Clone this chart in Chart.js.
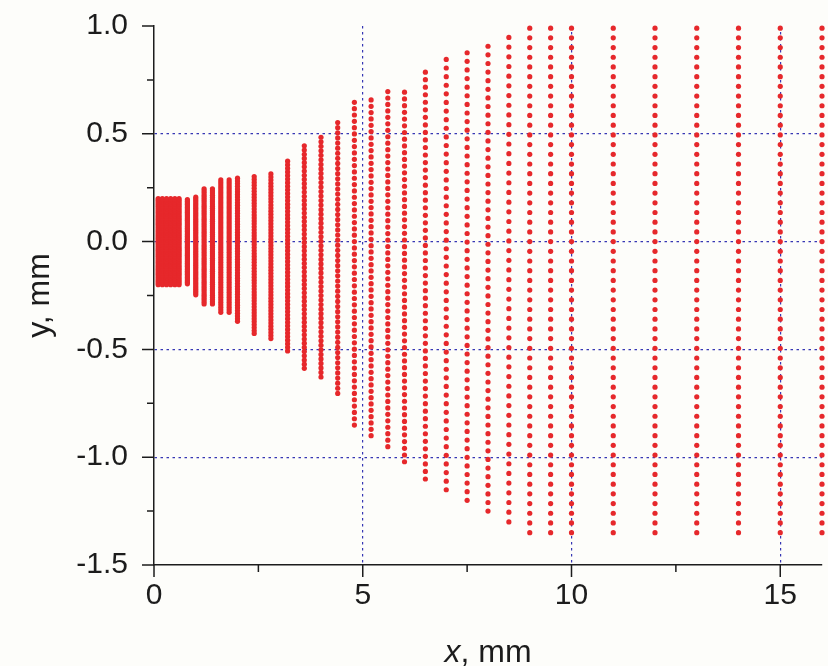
<!DOCTYPE html>
<html>
<head>
<meta charset="utf-8">
<script src="https://cdn.jsdelivr.net/npm/chart.js@4.4.1/dist/chart.umd.min.js"></script>
<style>
  html, body { margin: 0; padding: 0; background: #fdfdfa; }
  #wrap { width: 828px; height: 666px; }
</style>
</head>
<body>
<div id="wrap"><canvas id="c" width="828" height="666"></canvas></div>
<script>
// node columns: x position (mm), upper / lower y edge (mm), nodes per column
const colX = [0.1, 0.2, 0.3, 0.4, 0.5, 0.6, 0.8, 1.0, 1.2, 1.4, 1.6, 1.8, 2.0, 2.4, 2.8, 3.2, 3.6, 4.0, 4.4,
  4.8, 5.2, 5.6, 6.0, 6.5, 7.0, 7.5, 8.0, 8.5, 9.0, 9.5, 10, 11, 12, 13, 14, 15, 16];
const colTop = [0.2, 0.2, 0.2, 0.2, 0.2, 0.2, 0.195, 0.206, 0.245, 0.245, 0.286, 0.286, 0.294, 0.302, 0.314, 0.373, 0.444, 0.484, 0.552,
  0.646, 0.657, 0.696, 0.693, 0.786, 0.845, 0.876, 0.906, 0.947, 0.99, 0.99, 0.99, 0.99, 0.99, 0.99, 0.99, 0.99, 0.99];
const colBottom = [-0.2, -0.2, -0.2, -0.2, -0.2, -0.2, -0.196, -0.247, -0.289, -0.289, -0.328, -0.328, -0.37, -0.426, -0.45, -0.507, -0.588, -0.628, -0.704,
  -0.851, -0.9, -0.951, -1.021, -1.101, -1.151, -1.2, -1.25, -1.3, -1.35, -1.35, -1.35, -1.35, -1.35, -1.35, -1.35, -1.35, -1.35];
const colCount = [51, 51, 51, 51, 51, 51, 54, 54, 54, 54, 54, 54, 54, 54, 54, 54, 54, 54, 54,
  52, 54, 56, 56, 55, 51, 53, 55, 51, 53, 53, 53, 53, 53, 53, 53, 53, 53];

const yTicks = [-1.5, -1.0, -0.5, 0.0, 0.5, 1.0];
const xTicks = [0, 5, 10, 15];
const yMinor = [-1.25, -0.75, -0.25, 0.25, 0.75];
const xMinor = [2.5, 7.5, 12.5];

const FONT = "'Liberation Sans', Arial, Helvetica, sans-serif";
const INK = '#1c1c1c';
const GRID = '#3636b4';
const DOT = '#e6282b';

// every column is an evenly spaced run of nodes between its two edges
const nodes = [];
colX.forEach((x, i) => {
  const n = colCount[i];
  for (let k = 0; k < n; k++) {
    nodes.push({ x, y: colTop[i] + (colBottom[i] - colTop[i]) * k / (n - 1) });
  }
});

const paper = {
  id: 'paper',
  beforeDraw(chart) {
    const { ctx, width, height } = chart;
    ctx.save();
    ctx.fillStyle = '#fdfdfa';
    ctx.fillRect(0, 0, width, height);
    ctx.restore();
  },
};

// outward major/minor tick marks and the x title with italic "x"
const axisMarks = {
  id: 'axisMarks',
  afterDraw(chart) {
    const { ctx, scales: { x, y }, chartArea } = chart;
    ctx.save();
    ctx.strokeStyle = INK;
    ctx.lineWidth = 1.5;
    ctx.beginPath();
    yTicks.forEach(v => { const p = y.getPixelForValue(v); ctx.moveTo(chartArea.left - 12, p); ctx.lineTo(chartArea.left, p); });
    yMinor.forEach(v => { const p = y.getPixelForValue(v); ctx.moveTo(chartArea.left - 7, p); ctx.lineTo(chartArea.left, p); });
    xTicks.forEach(v => { const p = x.getPixelForValue(v); ctx.moveTo(p, chartArea.bottom); ctx.lineTo(p, chartArea.bottom + 12); });
    xMinor.forEach(v => { const p = x.getPixelForValue(v); ctx.moveTo(p, chartArea.bottom); ctx.lineTo(p, chartArea.bottom + 7); });
    ctx.stroke();

    const size = 32;
    const italic = `italic ${size}px ${FONT}`;
    const plain = `${size}px ${FONT}`;
    ctx.font = italic;
    const w1 = ctx.measureText('x').width;
    ctx.font = plain;
    const w2 = ctx.measureText(', mm').width;
    const cx = (chartArea.left + chartArea.right) / 2;
    const left = cx - (w1 + w2) / 2;
    ctx.fillStyle = INK;
    ctx.textBaseline = 'alphabetic';
    ctx.textAlign = 'left';
    ctx.font = italic;
    ctx.fillText('x', left, 662);
    ctx.font = plain;
    ctx.fillText(', mm', left + w1, 662);
    ctx.restore();
  },
};

new Chart(document.getElementById('c'), {
  type: 'scatter',
  data: {
    datasets: [{
      data: nodes,
      pointRadius: 2.6,
      pointHoverRadius: 0,
      pointBackgroundColor: DOT,
      pointBorderWidth: 0,
      clip: false,
    }],
  },
  options: {
    responsive: false,
    animation: false,
    events: [],
    layout: { padding: { top: 26, right: 6, left: 0, bottom: 0 } },
    plugins: { legend: { display: false }, tooltip: { enabled: false } },
    scales: {
      x: {
        type: 'linear', min: 0, max: 16,
        afterFit: s => { s.height = 101; s.paddingLeft = 0; s.paddingRight = 0; },
        afterBuildTicks: s => { s.ticks = xTicks.map(value => ({ value })); },
        ticks: { color: INK, padding: 13, font: { family: FONT, size: 30 } },
        grid: {
          drawTicks: false, lineWidth: 1.2,
          color: c => (c.tick && c.tick.value === 0 ? 'rgba(0,0,0,0)' : GRID),
        },
        border: { display: true, color: INK, width: 1.5, dash: [2.5, 3.5] },
      },
      y: {
        type: 'linear', min: -1.5, max: 1.0,
        afterFit: s => { s.width = 154; s.paddingTop = 0; s.paddingBottom = 0; },
        afterBuildTicks: s => { s.ticks = yTicks.map(value => ({ value })); },
        ticks: { color: INK, padding: 26, font: { family: FONT, size: 30 }, callback: v => v.toFixed(1) },
        grid: {
          drawTicks: false, lineWidth: 1.2,
          color: c => (c.tick && (c.tick.value === -1.5 || c.tick.value === 1.0) ? 'rgba(0,0,0,0)' : GRID),
        },
        border: { display: true, color: INK, width: 1.5, dash: [2.5, 3.5] },
        title: {
          display: true, text: 'y, mm', color: INK,
          font: { family: FONT, size: 32 }, padding: { top: 21, bottom: 0 },
        },
      },
    },
  },
  plugins: [paper, axisMarks],
});
</script>
</body>
</html>
